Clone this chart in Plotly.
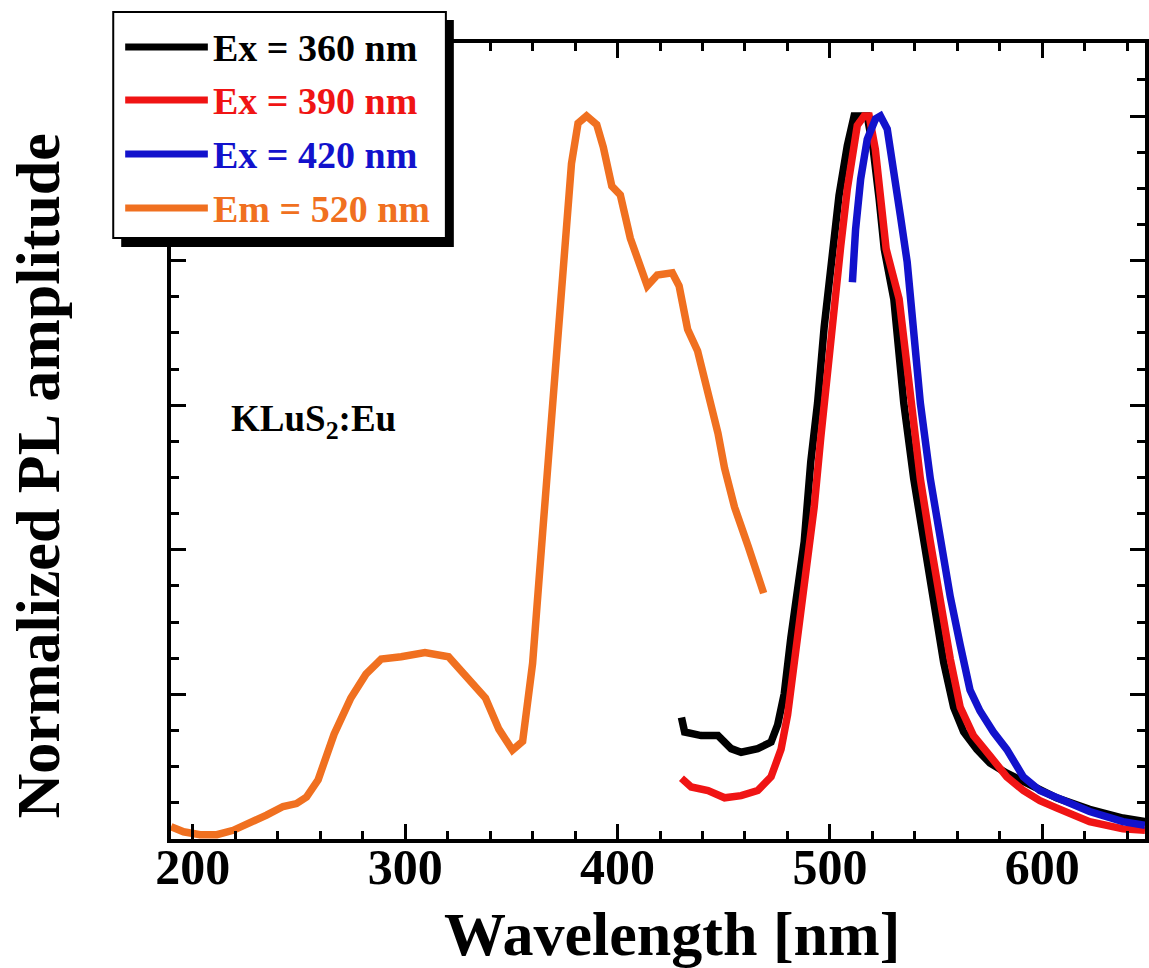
import plotly.graph_objects as go

# ---------------- data ----------------
series_names = ["Ex = 360 nm", "Ex = 390 nm", "Ex = 420 nm", "Em = 520 nm"]
series_colors = ["#000000", "#f01414", "#1212cc", "#f07020"]

ex360_wl = [430.1, 431.6, 439.4, 447.3, 453.5, 458.2, 466.0, 472.3, 475.4, 478.5,
            481.6, 484.8, 487.9, 491.0, 494.2, 497.3, 499.2, 501.5, 504.3, 508.2,
            511.4, 517.6, 520.4, 523.2, 525.6, 530.1, 534.8, 539.5, 544.2, 548.9,
            553.6, 558.3, 563.0, 569.2, 575.4, 583.3, 591.1, 598.9, 606.7, 622.3,
            638.0, 648.4]
ex360_val = [0.168, 0.148, 0.143, 0.143, 0.125, 0.120, 0.125, 0.134, 0.158, 0.201,
             0.278, 0.345, 0.411, 0.522, 0.603, 0.708, 0.760, 0.830, 0.890, 0.959,
             1.000, 1.000, 0.954, 0.885, 0.816, 0.747, 0.603, 0.498, 0.411, 0.325,
             0.244, 0.182, 0.148, 0.124, 0.105, 0.091, 0.079, 0.067, 0.057, 0.041,
             0.029, 0.024]

ex390_wl = [430.1, 434.7, 442.6, 450.4, 458.2, 466.0, 472.3, 477.0, 480.1, 483.2,
            486.3, 489.5, 492.6, 495.7, 498.9, 502.0, 505.1, 508.2, 512.9, 516.1,
            518.5, 521.4, 523.7, 526.5, 532.6, 537.9, 542.6, 547.3, 552.0, 556.7,
            561.4, 567.6, 575.4, 583.3, 591.1, 598.9, 606.7, 622.3, 638.0, 648.4]
ex390_val = [0.084, 0.072, 0.067, 0.057, 0.060, 0.067, 0.086, 0.124, 0.172, 0.244,
             0.316, 0.388, 0.459, 0.555, 0.651, 0.723, 0.820, 0.899, 0.987, 1.000,
             1.000, 0.954, 0.885, 0.816, 0.747, 0.603, 0.498, 0.411, 0.325, 0.249,
             0.182, 0.143, 0.115, 0.086, 0.067, 0.053, 0.043, 0.024, 0.014, 0.012]

ex420_wl = [510.6, 512.1, 514.5, 517.6, 521.5, 523.8, 527.0, 530.1, 533.2, 536.4,
            537.8, 542.6, 547.3, 552.0, 556.7, 561.4, 566.0, 570.7, 577.0, 583.3,
            591.1, 598.9, 606.7, 622.3, 638.0, 648.4]
ex420_val = [0.770, 0.843, 0.913, 0.968, 0.996, 1.000, 0.982, 0.927, 0.862, 0.798,
             0.747, 0.603, 0.498, 0.411, 0.335, 0.268, 0.206, 0.177, 0.148, 0.124,
             0.086, 0.067, 0.057, 0.038, 0.024, 0.019]

em520_wl = [189.7, 195.6, 203.4, 211.3, 219.0, 226.9, 234.7, 242.5, 248.8, 253.5,
            259.0, 266.5, 274.4, 281.5, 288.7, 298.1, 309.3, 320.4, 329.9, 337.8,
            344.1, 350.5, 355.3, 360.0, 364.7, 369.4, 374.3, 378.3, 381.4, 385.4,
            390.2, 393.3, 397.3, 401.3, 406.0, 410.8, 414.0, 418.7, 425.8, 429.0,
            433.0, 437.7, 442.5, 447.3, 450.4, 455.1, 461.5, 468.8]
em520_val = [0.017, 0.010, 0.006, 0.006, 0.012, 0.022, 0.033, 0.045, 0.049, 0.058,
             0.082, 0.145, 0.195, 0.228, 0.249, 0.252, 0.258, 0.252, 0.222, 0.195,
             0.152, 0.123, 0.135, 0.243, 0.423, 0.603, 0.783, 0.934, 0.990, 1.000,
             0.988, 0.957, 0.903, 0.891, 0.831, 0.789, 0.765, 0.780, 0.783, 0.765,
             0.705, 0.675, 0.621, 0.561, 0.513, 0.459, 0.405, 0.340]

x_ticks = [200, 300, 400, 500, 600]
x_tick_labels = ["200", "300", "400", "500", "600"]
sample_label = "KLuS<sub>2</sub>:Eu"
x_title = "Wavelength [nm]"
y_title = "Normalized PL amplitude"

# ---------------- figure ----------------
W, H = 1149, 968
L, R, T, B = 171, 0, 43, 129
FONT = "Liberation Serif, Times New Roman, serif"

fig = go.Figure()
all_x = [ex360_wl, ex390_wl, ex420_wl, em520_wl]
all_y = [ex360_val, ex390_val, ex420_val, em520_val]
# draw order: orange, black, red, blue
for i in [3, 0, 1, 2]:
    fig.add_trace(go.Scatter(x=all_x[i], y=all_y[i], mode="lines", name=series_names[i],
                             line=dict(color=series_colors[i], width=7.5),
                             showlegend=False))

plot_w = W - L - R
plot_h = H - T - B

def px(xp):
    return (xp - L) / plot_w

def py(yp):
    return (H - B - yp) / plot_h

axis_common = dict(showline=True, linecolor="black", linewidth=3.5, mirror="ticks",
                   ticks="inside", tickcolor="black", tickwidth=3, ticklen=15,
                   showgrid=False, zeroline=False)

fig.update_xaxes(range=[189.7, 648.4], tickmode="array", tickvals=x_ticks,
                 ticktext=x_tick_labels, ticklabelstandoff=-19,
                 tickfont=dict(family=FONT, size=50, color="black", weight="bold"),
                 minor=dict(dtick=20, tick0=200, ticks="inside", ticklen=8, tickwidth=3,
                            tickcolor="black", showgrid=False),
                 **axis_common)
fig.update_yaxes(range=[0, 1.101], dtick=0.2, tick0=0, showticklabels=False,
                 minor=dict(dtick=0.05, tick0=0, ticks="inside", ticklen=8, tickwidth=3,
                            tickcolor="black", showgrid=False),
                 **axis_common)

shapes = []
# legend shadow and box
shapes.append(dict(type="rect", xref="paper", yref="paper",
                   x0=px(121), x1=px(455), y0=py(247), y1=py(20),
                   fillcolor="black", line=dict(width=0), layer="above"))
shapes.append(dict(type="rect", xref="paper", yref="paper",
                   x0=px(113), x1=px(447), y0=py(238), y1=py(12),
                   fillcolor="white", line=dict(color="black", width=2), layer="above"))
row_y = [47, 100, 154, 208]
annotations = []
for i, ry in enumerate(row_y):
    shapes.append(dict(type="line", xref="paper", yref="paper",
                       x0=px(125), x1=px(208), y0=py(ry), y1=py(ry),
                       line=dict(color=series_colors[i], width=7), layer="above"))
    annotations.append(dict(xref="paper", yref="paper", x=px(211), y=py(ry + 1),
                            xanchor="left", yanchor="middle", showarrow=False,
                            text=series_names[i],
                            font=dict(family=FONT, size=38, color=series_colors[i],
                                      weight="bold")))

annotations.append(dict(xref="x", yref="y", x=217.0, y=0.578, xanchor="left",
                        yanchor="middle", showarrow=False, text=sample_label,
                        font=dict(family=FONT, size=37, color="black", weight="bold")))
annotations.append(dict(xref="paper", yref="paper", x=px(674), y=py(934),
                        xanchor="center", yanchor="middle", showarrow=False, text=x_title,
                        font=dict(family=FONT, size=62, color="black", weight="bold")))
annotations.append(dict(xref="paper", yref="paper", x=px(37), y=py(476),
                        xanchor="center", yanchor="middle", showarrow=False, text=y_title,
                        textangle=-90,
                        font=dict(family=FONT, size=62, color="black", weight="bold")))

fig.update_layout(width=W, height=H, margin=dict(l=L, r=R, t=T, b=B, pad=0),
                  paper_bgcolor="white", plot_bgcolor="white",
                  shapes=shapes, annotations=annotations, showlegend=False)

fig.write_html("out.html", config={"displayModeBar": False},
               post_script="document.body.style.margin='0';"
                           "document.body.style.overflow='hidden';")
